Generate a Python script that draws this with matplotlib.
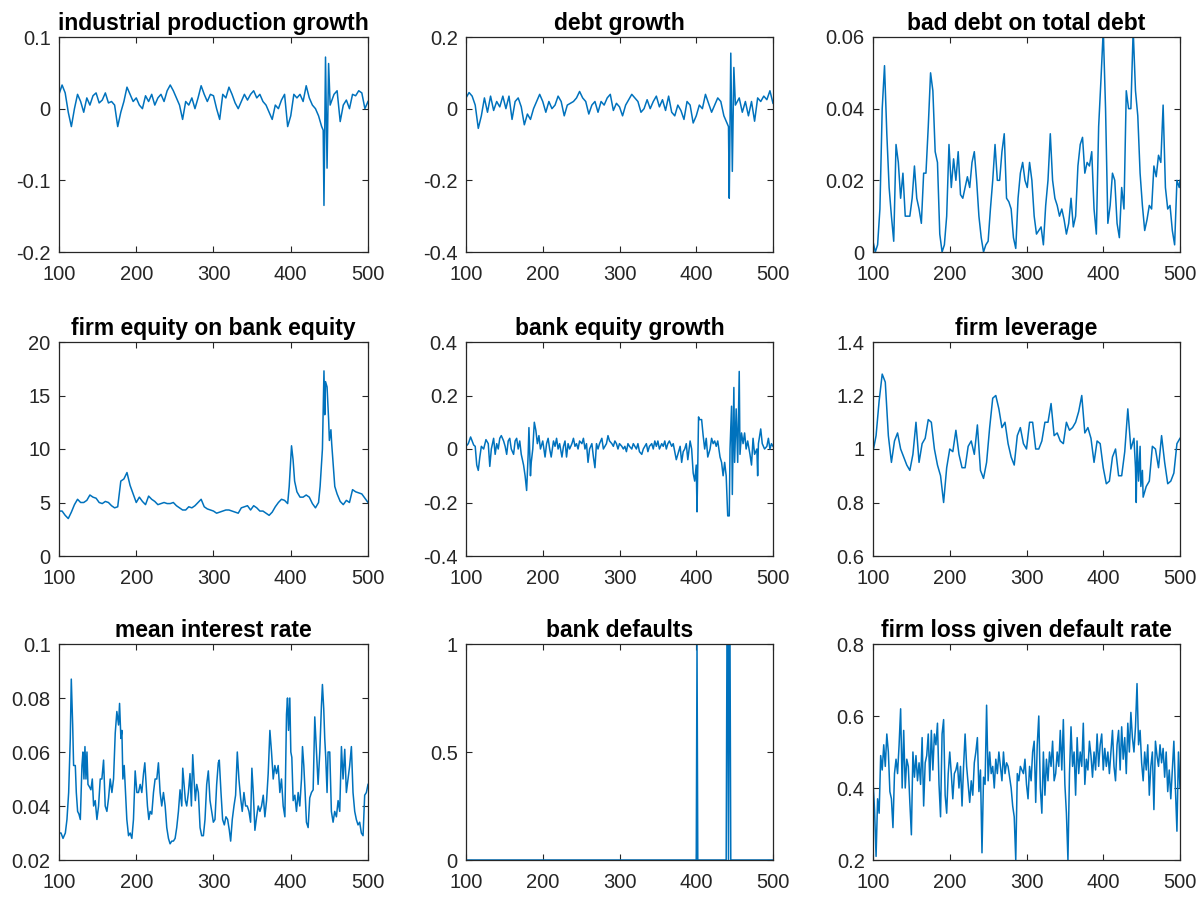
import matplotlib
matplotlib.use("Agg")
import matplotlib.pyplot as plt
from matplotlib.ticker import FuncFormatter

plt.rcParams['font.family'] = ['Liberation Sans', 'DejaVu Sans']
plt.rcParams['axes.unicode_minus'] = False

# ---- data (time 100..500) ----

# industrial production growth
t_ipg = list(range(100, 441, 4)) + [442, 443, 445, 447, 449, 451] + list(range(456, 501, 4))
ipg = [0.02, 0.033, 0.022, -0.005, -0.025, 0.0, 0.02, 0.01, -0.005, 0.015,
       0.005, 0.018, 0.022, 0.008, 0.012, 0.022, 0.008, 0.01, 0.005, -0.025,
       -0.005, 0.01, 0.03, 0.02, 0.01, 0.015, 0.005, 0.0, 0.018, 0.01,
       0.02, 0.005, 0.015, 0.02, 0.01, 0.025, 0.033, 0.025, 0.015, 0.005,
       -0.015, 0.01, 0.005, 0.015, 0.0, 0.015, 0.032, 0.02, 0.01, 0.02,
       0.018, 0.0, -0.015, 0.02, 0.015, 0.03, 0.02, 0.008, 0.0, 0.01,
       0.02, 0.012, 0.02, 0.025, 0.015, 0.02, 0.01, 0.005, -0.005, -0.015,
       0.005, 0.0, 0.012, 0.02, -0.025, -0.01, 0.02, 0.015, 0.02, 0.01,
       0.032, 0.015, 0.005, 0.0, -0.01, -0.025,
       -0.03, -0.135, 0.072, -0.083, 0.063, 0.005,
       0.02, 0.025, -0.018, 0.005, 0.012, 0.0, 0.02, 0.018, 0.025, 0.022, 0.0, 0.01]

# debt growth
t_debt = list(range(100, 441, 4)) + [442, 443, 445, 447, 449, 451] + list(range(456, 501, 4))
debt = [0.03, 0.045, 0.035, 0.01, -0.055, -0.02, 0.03, -0.01, 0.035, -0.005,
        0.02, 0.005, 0.035, 0.0, 0.035, -0.03, 0.02, 0.03, 0.005, -0.045,
        -0.015, -0.03, 0.0, 0.02, 0.04, 0.02, -0.01, 0.02, 0.0, 0.01,
        0.035, 0.02, -0.02, 0.01, 0.015, 0.02, 0.03, 0.048, 0.03, 0.02,
        -0.015, 0.01, 0.02, -0.01, 0.02, 0.01, 0.03, 0.04, -0.005, 0.015,
        0.005, -0.02, 0.01, 0.025, 0.04, 0.03, 0.02, -0.01, 0.0, 0.025,
        0.0, 0.02, 0.035, 0.005, 0.025, -0.005, 0.035, -0.01, -0.02, 0.01,
        -0.005, -0.03, 0.02, 0.01, -0.04, -0.02, 0.01, 0.0, 0.04, 0.015,
        -0.01, 0.01, 0.03, 0.02, -0.02, -0.04,
        -0.05, -0.25, 0.155, -0.175, 0.115, 0.01,
        0.03, -0.01, 0.02, -0.02, 0.02, -0.035, 0.03, 0.02, 0.035, 0.025, 0.05, 0.015]

# bad debt on total debt
t_bad = list(range(100, 500, 3)) + [500]
bad = [0.003, 0.0, 0.002, 0.012, 0.04, 0.052, 0.033, 0.018, 0.01, 0.003,
       0.03, 0.025, 0.015, 0.022, 0.01, 0.01, 0.01, 0.015, 0.024, 0.015,
       0.012, 0.008, 0.022, 0.022, 0.035, 0.05, 0.045, 0.028, 0.025, 0.005,
       0.0, 0.002, 0.01, 0.03, 0.018, 0.026, 0.02, 0.028, 0.016, 0.015,
       0.018, 0.021, 0.018, 0.025, 0.028, 0.02, 0.01, 0.004, 0.0, 0.002,
       0.003, 0.012, 0.02, 0.03, 0.02, 0.02, 0.028, 0.033, 0.015, 0.014,
       0.012, 0.004, 0.001, 0.015, 0.022, 0.025, 0.02, 0.018, 0.025, 0.02,
       0.01, 0.005, 0.006, 0.007, 0.002, 0.013, 0.02, 0.033, 0.02, 0.015,
       0.013, 0.01, 0.012, 0.009, 0.005, 0.008, 0.015, 0.007, 0.01, 0.024,
       0.03, 0.032, 0.022, 0.025, 0.024, 0.028, 0.012, 0.005, 0.035, 0.048,
       0.062, 0.04, 0.008, 0.013, 0.022, 0.02, 0.008, 0.004, 0.018, 0.012,
       0.045, 0.04, 0.04, 0.062, 0.045, 0.038, 0.022, 0.013, 0.006, 0.009,
       0.013, 0.012, 0.024, 0.021, 0.027, 0.025, 0.041, 0.018, 0.012, 0.013,
       0.006, 0.002, 0.02, 0.018, 0.02]

# firm equity on bank equity
t_feq = (list(range(100, 397, 4)) + [398, 401, 403, 405] + list(range(408, 437, 4))
         + [438, 441, 443, 444, 445, 447, 449, 450, 452, 453, 455, 457, 460]
         + list(range(464, 501, 4)))
feq = [4.2, 4.2, 3.8, 3.5, 4.1, 4.8, 5.3, 5.0, 5.0, 5.2,
       5.7, 5.5, 5.4, 5.0, 4.9, 5.1, 5.0, 4.7, 4.5, 4.6,
       7.0, 7.2, 7.8, 6.6, 5.8, 5.0, 5.5, 5.1, 4.8, 5.6,
       5.3, 5.1, 4.8, 4.9, 5.0, 4.9, 4.9, 5.0, 4.7, 4.5,
       4.3, 4.3, 4.6, 4.5, 4.7, 5.0, 5.3, 4.6, 4.4, 4.3,
       4.2, 4.0, 4.1, 4.2, 4.3, 4.3, 4.2, 4.1, 4.0, 4.5,
       4.6, 4.7, 4.3, 4.7, 4.5, 4.2, 4.2, 4.0, 3.8, 4.1,
       4.6, 5.0, 5.3, 5.2, 4.9,
       6.5, 10.3, 9.0, 7.0,
       6.0, 5.5, 5.5, 5.7, 5.5, 4.9, 4.5, 5.0,
       6.5, 10.0, 17.3, 13.2, 16.3, 15.8, 12.8, 10.8, 11.8, 10.5, 8.5, 6.5, 5.8,
       5.1, 4.8, 5.2, 5.0, 6.2, 6.0, 5.9, 5.8, 5.4, 5.0]

# bank equity growth
t_beq = [100, 103, 106, 110, 112, 114, 116, 118, 120, 123,
         126, 129, 131, 133, 136, 138, 140, 142, 144, 146,
         149, 151, 153, 155, 157, 159, 162, 164, 166, 168,
         170, 172, 175, 177, 179, 181, 182, 184, 185, 187,
         189, 191, 193, 195, 197, 200, 203, 205, 207, 209,
         211, 214, 216, 218, 220, 222, 225, 227, 229, 231,
         233, 235, 238, 240, 242, 244, 246, 248, 251, 253,
         255, 257, 259, 261, 264, 266, 268, 270, 272, 274,
         277, 279, 281, 283, 285, 287, 290, 292, 294, 296,
         298, 300, 303, 305, 307, 309, 311, 313, 316, 318,
         320, 322, 324, 326, 329, 331, 333, 335, 337, 339,
         342, 344, 346, 348, 350, 352, 355, 357, 359, 361,
         363, 365, 368, 370, 372, 374, 376, 379, 381, 383,
         385, 387, 389, 392, 394, 396, 398, 400, 401, 403,
         404, 407, 409, 411, 413, 415, 418, 420, 422, 424,
         426, 428, 431, 433, 435, 437, 439, 441, 443, 444,
         446, 447, 449, 450, 452, 454, 456, 457, 459, 461,
         463, 465, 467, 470, 472, 474, 476, 479, 480, 481,
         484, 486, 489, 492, 494, 496, 498, 500]
beq = [0.01, 0.02, 0.045, 0.015, 0.01, -0.06, -0.08, -0.03, 0.01, 0.0,
       0.035, 0.02, -0.065, 0.0, 0.04, -0.02, 0.02, 0.0, 0.04, 0.05,
       0.03, 0.01, -0.02, 0.03, 0.04, 0.0, -0.02, 0.03, 0.04, 0.0,
       0.03, -0.02, -0.06, -0.1, -0.155, -0.02, 0.08, -0.1, -0.05, 0.0,
       0.1, 0.07, 0.02, 0.05, 0.0, 0.03, -0.03, 0.02, 0.04, 0.0,
       -0.03, 0.03, 0.01, 0.04, 0.0, 0.02, -0.03, 0.01, 0.03, -0.03,
       0.02, 0.0, 0.02, 0.04, 0.01, 0.02, 0.0, 0.03, 0.02, 0.04,
       0.0, 0.02, -0.05, 0.0, 0.02, -0.03, -0.07, 0.02, 0.0, 0.02,
       0.04, 0.0, 0.01, 0.02, 0.05, 0.03, 0.02, 0.01, 0.03, 0.02,
       0.0, 0.02, 0.01, 0.0, 0.01, -0.01, 0.02, 0.01, 0.0, 0.02,
       0.01, 0.0, 0.02, -0.01, -0.02, 0.0, 0.01, 0.02, -0.01, 0.01,
       0.02, 0.0, 0.03, 0.01, 0.03, 0.0, 0.02, 0.01, 0.03, 0.0,
       0.02, 0.03, 0.01, 0.02, -0.01, -0.04, -0.02, 0.01, -0.05, -0.01,
       0.0, 0.02, -0.04, 0.03, 0.0, -0.09, -0.12, -0.06, -0.235, 0.12,
       0.11, 0.11, 0.05, 0.0, 0.04, -0.03, 0.0, 0.04, 0.02, 0.03,
       0.01, 0.03, -0.03, -0.05, -0.1, -0.05, -0.1, -0.25, -0.25, 0.0,
       0.16, -0.17, 0.23, -0.05, 0.15, -0.05, 0.29, -0.02, 0.06, 0.02,
       0.06, 0.0, 0.03, -0.02, -0.06, 0.04, -0.02, 0.0, -0.1, 0.02,
       0.075, 0.02, 0.0, 0.01, 0.04, 0.0, 0.02, 0.01]

# firm leverage
t_lev = list(range(100, 441, 4)) + [442, 443, 444, 446, 448, 449, 451, 452] + list(range(456, 501, 4))
lev = [0.99, 1.05, 1.18, 1.28, 1.25, 1.05, 0.95, 1.03, 1.06, 1.0,
       0.97, 0.94, 0.92, 0.98, 1.1, 0.95, 1.02, 1.04, 1.11, 1.1,
       1.0, 0.94, 0.9, 0.8, 0.93, 1.0, 0.99, 1.07, 0.98, 0.93,
       0.93, 1.01, 1.03, 0.98, 1.09, 0.92, 0.89, 0.95, 1.08, 1.19,
       1.2, 1.15, 1.08, 1.1, 1.02, 0.97, 0.94, 1.05, 1.08, 1.02,
       1.0, 1.1, 1.1, 1.0, 1.0, 1.03, 1.1, 1.1, 1.17, 1.05,
       1.06, 1.03, 1.02, 1.1, 1.07, 1.08, 1.1, 1.14, 1.2, 1.06,
       1.08, 1.04, 0.95, 1.03, 1.02, 0.93, 0.87, 0.88, 0.97, 1.0,
       0.9, 0.9, 0.99, 1.15, 1.0, 1.04,
       0.93, 0.8, 1.03, 0.88, 1.01, 0.86, 0.92, 0.82,
       0.86, 0.88, 1.01, 1.0, 0.93, 1.05, 0.95, 0.87, 0.88, 0.91, 1.02, 1.04]

# mean interest rate
t_rate = [100, 102.6, 105.2, 108.2, 110.3, 112.5, 114.6, 115.9, 117.7, 118.9,
          121.1, 122.4, 124.1, 125.8, 127.6, 129.7, 131, 132.3, 133.6, 134.9,
          136.2, 137.5, 139.6, 141.3, 143.1, 144.8, 146.9, 149.1, 151.2, 153.4,
          155.5, 157.7, 159.8, 162, 164.2, 166.3, 168.5, 170.6, 172.8, 174.9,
          177.1, 178.4, 180.1, 181.4, 182.7, 184.4, 186.1, 187.8, 190, 192.1,
          194.3, 196.4, 198.6, 200.8, 202.9, 205.1, 207.2, 209.4, 211.1, 212.8,
          214.5, 216.3, 218, 220.1, 222.3, 224.4, 226.6, 228.7, 230.9, 233,
          235.2, 237.4, 239.5, 241.7, 243.8, 246, 248.1, 250.3, 252.4, 254.6,
          256.7, 258.9, 260.2, 261.9, 263.6, 265.3, 267.5, 269.6, 271.4, 273.1,
          274.8, 276.5, 278.3, 280.4, 282.6, 284.7, 286.9, 289, 291.2, 293.3,
          295.5, 297.6, 299.8, 301.9, 304.1, 306.2, 307.5, 309.7, 311.8, 314,
          316.1, 318.3, 320.5, 322.2, 324.3, 326.5, 328.6, 330.8, 332.9, 335.1,
          337.2, 339.4, 341.6, 343.7, 345.9, 348, 349.7, 351.5, 353.6, 355.8,
          357.9, 360.1, 362.2, 364.4, 366.5, 368.7, 370.8, 373, 375.1, 377.3,
          379.4, 381.6, 383.7, 385.9, 388, 390.2, 392.4, 394.5, 395.8, 397.1,
          398.8, 400.1, 401.4, 403.1, 405.3, 407.4, 409.6, 411.7, 413.9, 415.2,
          416.9, 418.6, 420.3, 422.5, 424.6, 426.8, 429, 431.1, 433.3, 435.4,
          437.6, 439.7, 441, 442.7, 444, 445.3, 447, 448.3, 450.5, 452.6,
          454.8, 456.9, 459.1, 461.3, 463.4, 465.6, 467.7, 469.9, 472, 474.2,
          476.3, 478.5, 480.6, 482.8, 484.9, 487.1, 489.2, 491.4, 493.6, 495.7,
          497.9, 500]
rate = [0.030, 0.030, 0.028, 0.030, 0.035, 0.045, 0.065, 0.087, 0.07, 0.055,
        0.055, 0.045, 0.038, 0.037, 0.035, 0.055, 0.06, 0.05, 0.062, 0.05,
        0.06, 0.048, 0.047, 0.046, 0.05, 0.04, 0.042, 0.035, 0.04, 0.05,
        0.05, 0.057, 0.04, 0.038, 0.043, 0.05, 0.045, 0.05, 0.067, 0.075,
        0.07, 0.078, 0.065, 0.068, 0.05, 0.055, 0.045, 0.035, 0.029, 0.03,
        0.028, 0.035, 0.053, 0.045, 0.045, 0.048, 0.045, 0.052, 0.056, 0.048,
        0.04, 0.035, 0.038, 0.037, 0.045, 0.05, 0.05, 0.056, 0.045, 0.04,
        0.045, 0.04, 0.032, 0.028, 0.026, 0.027, 0.027, 0.028, 0.032, 0.038,
        0.046, 0.04, 0.054, 0.048, 0.042, 0.04, 0.045, 0.052, 0.04, 0.059,
        0.05, 0.042, 0.048, 0.045, 0.032, 0.029, 0.029, 0.035, 0.048, 0.053,
        0.042, 0.038, 0.034, 0.035, 0.048, 0.056, 0.057, 0.045, 0.035, 0.033,
        0.036, 0.035, 0.031, 0.027, 0.035, 0.04, 0.044, 0.06, 0.05, 0.043,
        0.038, 0.045, 0.04, 0.04, 0.038, 0.034, 0.054, 0.045, 0.031, 0.036,
        0.04, 0.038, 0.04, 0.044, 0.036, 0.042, 0.052, 0.068, 0.06, 0.05,
        0.055, 0.052, 0.055, 0.045, 0.05, 0.04, 0.036, 0.074, 0.08, 0.068,
        0.08, 0.06, 0.058, 0.042, 0.044, 0.038, 0.045, 0.04, 0.05, 0.062,
        0.055, 0.045, 0.034, 0.032, 0.043, 0.045, 0.046, 0.073, 0.06, 0.048,
        0.06, 0.077, 0.085, 0.076, 0.065, 0.058, 0.045, 0.06, 0.06, 0.038,
        0.034, 0.038, 0.036, 0.042, 0.038, 0.062, 0.05, 0.061, 0.045, 0.05,
        0.055, 0.062, 0.045, 0.038, 0.035, 0.033, 0.034, 0.03, 0.029, 0.044,
        0.045, 0.048]

# bank defaults
t_def = [100, 400, 401, 402, 439, 440, 441, 442, 443, 444, 445, 500]
defaults = [0, 0, 1, 0, 0, 1, 1, 0, 1, 1, 0, 0]

# firm loss given default rate
t_lgd = list(range(100, 501, 2))
lgd = [0.42, 0.34, 0.21, 0.37, 0.33, 0.49, 0.45, 0.52, 0.46, 0.55,
       0.5, 0.39, 0.37, 0.29, 0.44, 0.48, 0.44, 0.52, 0.62, 0.4,
       0.56, 0.4, 0.48, 0.46, 0.36, 0.27, 0.5, 0.43, 0.49, 0.42,
       0.47, 0.41, 0.54, 0.35, 0.47, 0.49, 0.55, 0.42, 0.56, 0.45,
       0.55, 0.52, 0.58, 0.41, 0.32, 0.55, 0.59, 0.38, 0.33, 0.44,
       0.5, 0.44, 0.37, 0.44, 0.45, 0.47, 0.4, 0.46, 0.35, 0.46,
       0.55, 0.46, 0.41, 0.36, 0.42, 0.38, 0.47, 0.5, 0.54, 0.39,
       0.45, 0.22, 0.43, 0.41, 0.63, 0.42, 0.5, 0.44, 0.46, 0.4,
       0.48, 0.44, 0.5, 0.46, 0.42, 0.5, 0.44, 0.47, 0.46, 0.43,
       0.4, 0.35, 0.32, 0.2, 0.44, 0.42, 0.46, 0.45, 0.44, 0.48,
       0.41, 0.37, 0.46, 0.42, 0.5, 0.53, 0.36, 0.52, 0.6, 0.4,
       0.33, 0.5, 0.38, 0.48, 0.42, 0.5, 0.46, 0.53, 0.42, 0.44,
       0.5, 0.46, 0.56, 0.45, 0.59, 0.41, 0.33, 0.2, 0.44, 0.57,
       0.46, 0.5, 0.38, 0.54, 0.44, 0.5, 0.46, 0.58, 0.41, 0.48,
       0.45, 0.53, 0.49, 0.43, 0.5, 0.45, 0.55, 0.46, 0.52, 0.55,
       0.45, 0.51, 0.46, 0.5, 0.44, 0.5, 0.56, 0.46, 0.42, 0.52,
       0.56, 0.45, 0.57, 0.48, 0.54, 0.44, 0.58, 0.5, 0.61, 0.54,
       0.5, 0.57, 0.69, 0.52, 0.56, 0.47, 0.42, 0.5, 0.45, 0.52,
       0.38, 0.46, 0.5, 0.34, 0.53, 0.49, 0.46, 0.52, 0.47, 0.51,
       0.43, 0.5, 0.39, 0.45, 0.37, 0.45, 0.53, 0.4, 0.28, 0.5,
       0.4]

titles = ['industrial production growth', 'debt growth', 'bad debt on total debt',
          'firm equity on bank equity', 'bank equity growth', 'firm leverage',
          'mean interest rate', 'bank defaults', 'firm loss given default rate']
series = [(t_ipg, ipg), (t_debt, debt), (t_bad, bad),
          (t_feq, feq), (t_beq, beq), (t_lev, lev),
          (t_rate, rate), (t_def, defaults), (t_lgd, lgd)]
yticks = [[-0.2, -0.1, 0, 0.1], [-0.4, -0.2, 0, 0.2], [0, 0.02, 0.04, 0.06],
          [0, 5, 10, 15, 20], [-0.4, -0.2, 0, 0.2, 0.4], [0.6, 0.8, 1, 1.2, 1.4],
          [0.02, 0.04, 0.06, 0.08, 0.1], [0, 0.5, 1], [0.2, 0.4, 0.6, 0.8]]
xticks = [100, 200, 300, 400, 500]

# ---- figure ----
W, H = 1203, 901
fig = plt.figure(figsize=(W / 100, H / 100), dpi=100)

lefts = [59, 466, 873]
widths = [309, 307, 307]
tops = [37, 342, 644]
heights = [215, 214, 216]

line_color = '#0072BD'
ax_color = '#262626'

for i in range(9):
    r, c = divmod(i, 3)
    ax = fig.add_axes([lefts[c] / W, 1 - (tops[r] + heights[r]) / H,
                       widths[c] / W, heights[r] / H])
    t, v = series[i]
    ax.plot(t, v, color=line_color, lw=1.1)
    ax.set_xlim(100, 500)
    ax.set_ylim(yticks[i][0], yticks[i][-1])
    ax.set_xticks(xticks)
    ax.set_yticks(yticks[i])
    ax.yaxis.set_major_formatter(FuncFormatter(lambda val, p: '%g' % val))
    ax.tick_params(direction='in', top=True, right=True, length=4, width=0.8,
                   colors=ax_color, labelsize=14.5)
    ax.tick_params(axis='x', pad=9)
    ax.tick_params(axis='y', pad=6)
    for s in ax.spines.values():
        s.set_color(ax_color)
        s.set_linewidth(0.9)
    ax.set_title(titles[i], fontsize=16.5, fontweight='bold', pad=5)

fig.savefig('out.png', dpi=100)
